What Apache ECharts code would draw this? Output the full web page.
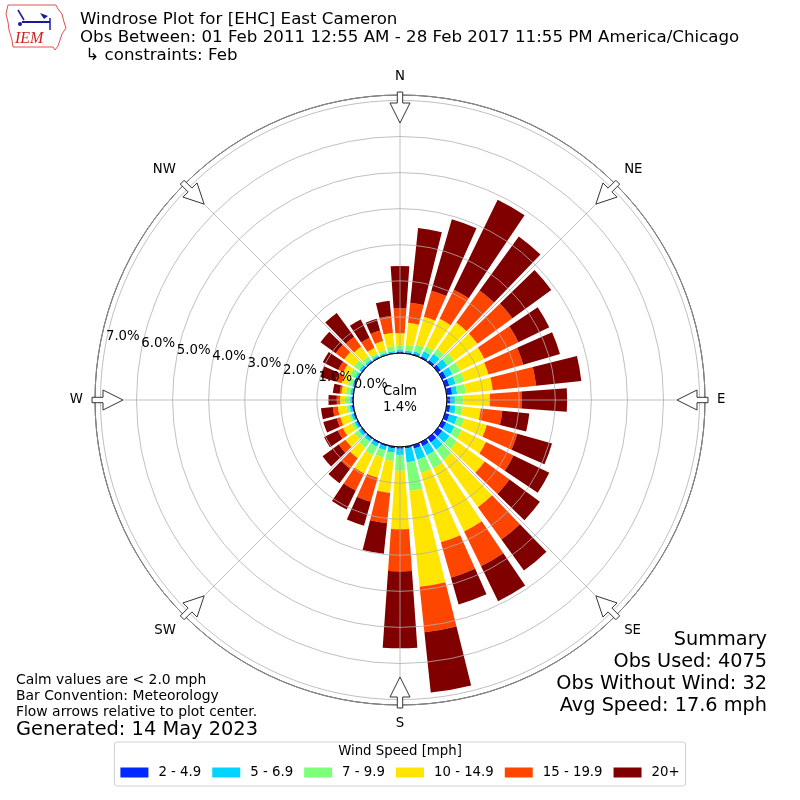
<!DOCTYPE html>
<html><head><meta charset="utf-8">
<script src="https://cdn.jsdelivr.net/npm/echarts@6/dist/echarts.min.js"></script>
<style>html,body{margin:0;padding:0;background:#fff}#c{width:800px;height:800px}</style>
</head><body><div id="c"></div>
<script>
// ---- data ----
const directions = ['0','10','20','30','40','50','60','70','80','90','100','110','120','130','140','150','160','170',
  '180','190','200','210','220','230','240','250','260','270','280','290','300','310','320','330','340','350'];
const speedBins = ['2 - 4.9','5 - 6.9','7 - 9.9','10 - 14.9','15 - 19.9','20+'];
const s2to5   = [0.03,0.03,0.04,0.05,0.07,0.10,0.12,0.12,0.15,0.10,0.10,0.12,0.12,0.15,0.15,0.12,0.10,0.05,0.05,0.05,0.04,0.04,0.04,0.04,0.04,0.04,0.04,0.03,0.03,0.03,0.03,0.03,0.03,0.03,0.02,0.02];
const s5to7   = [0.05,0.05,0.06,0.15,0.21,0.22,0.20,0.18,0.14,0.12,0.15,0.23,0.26,0.25,0.25,0.28,0.32,0.38,0.17,0.12,0.11,0.10,0.08,0.08,0.06,0.06,0.06,0.05,0.05,0.05,0.05,0.07,0.05,0.04,0.04,0.04];
const s7to10  = [0.12,0.16,0.20,0.15,0.17,0.23,0.23,0.25,0.24,0.23,0.20,0.20,0.22,0.25,0.35,0.40,0.38,0.80,0.44,0.23,0.21,0.26,0.21,0.14,0.09,0.07,0.10,0.14,0.12,0.12,0.17,0.18,0.12,0.07,0.08,0.14];
const s10to15 = [0.35,0.61,0.80,0.85,0.90,0.80,0.75,0.70,0.75,0.74,0.50,0.65,0.75,0.95,1.62,1.95,2.00,2.67,1.62,0.89,0.58,0.56,0.36,0.31,0.27,0.25,0.23,0.14,0.13,0.18,0.20,0.33,0.33,0.17,0.26,0.37];
const s15to20 = [0.69,0.56,0.75,0.90,1.10,1.20,1.05,1.00,1.21,0.88,0.60,0.88,0.85,0.85,1.11,1.07,1.02,1.27,1.17,0.84,0.69,0.53,0.36,0.23,0.16,0.10,0.14,0.09,0.05,0.18,0.15,0.29,0.33,0.31,0.30,0.47];
const s20plus = [1.17,2.08,2.06,2.77,1.85,1.33,0.95,1.06,1.26,1.26,0.75,1.00,1.10,1.04,1.06,1.08,0.77,1.68,2.13,0.85,0.69,0.58,0.50,0.55,0.42,0.39,0.33,0.23,0.19,0.44,0.48,0.52,0.82,0.56,0.34,0.42];
const compassLabels = ['N','NE','E','SE','S','SW','W','NW'];
const calmPct = '1.4%';
const summaryLines = ['Summary','Obs Used: 4075','Obs Without Wind: 32','Avg Speed: 17.6 mph'];
const noteLines = ['Calm values are < 2.0 mph','Bar Convention: Meteorology','Flow arrows relative to plot center.'];

// ---- styling ----
const colors = ['#0028ff','#00d4ff','#7dff7a','#ffe500','#ff4600','#800000'];
const FONT = 'DejaVu Sans';
const CX = 400, CY = 400, R0 = 47, R1 = 305, RMAX = 7.15;
const GRID = '#b0b0b0';

const seriesData = [s2to5, s5to7, s7to10, s10to15, s15to20, s20plus];
const series = seriesData.map((d, i) => ({
  type: 'bar', name: speedBins[i], coordinateSystem: 'polar', polarIndex: 0,
  stack: 'wind', data: d, barCategoryGap: '20%',
  itemStyle: { color: colors[i] }, z: 2, silent: true
}));

// arrows (decorations)
function arrowPts(deg) {
  const a = deg * Math.PI / 180;
  const u = [Math.sin(a), -Math.cos(a)], p = [Math.cos(a), Math.sin(a)];
  const pt = (r, w) => [CX + u[0] * r + p[0] * w, CY + u[1] * r + p[1] * w];
  return [pt(308, -2.7), pt(297, -2.7), pt(297, -10), pt(277, 0), pt(297, 10), pt(297, 2.7), pt(308, 2.7)];
}
const graphics = [];
for (let k = 0; k < 8; k++) {
  graphics.push({ type: 'polygon', z: 100, shape: { points: arrowPts(k * 45) },
    style: { fill: '#fff', stroke: '#333', lineWidth: 1 } });
}
function txt(x, y, text, size, align, extra) {
  return Object.assign({ type: 'text', x: x, y: y, z: 100,
    style: { text: text, fill: '#000', font: size + 'px "' + FONT + '"', textAlign: align || 'left', textVerticalAlign: 'middle', align: align || 'left', verticalAlign: 'middle' } }, extra || {});
}
graphics.push(txt(80, 20, 'Windrose Plot for [EHC] East Cameron', 16.67));
graphics.push(txt(80, 38, 'Obs Between: 01 Feb 2011 12:55 AM - 28 Feb 2017 11:55 PM America/Chicago', 16.67));
graphics.push(txt(80, 56, ' \u21b3 constraints: Feb', 16.67));
graphics.push(txt(CX, CY - 8, 'Calm', 13.3, 'center'));
graphics.push(txt(CX, CY + 8, calmPct, 13.3, 'center'));
summaryLines.forEach((t, i) => graphics.push(txt(767, 640 + i * 22, t, 19.3, 'right')));
noteLines.forEach((t, i) => graphics.push(txt(16, 680 + i * 16, t, 13.9)));
graphics.push(txt(16, 730, 'Generated: 14 May 2023', 19.4));
graphics.push(txt(400, 752, 'Wind Speed [mph]', 13.3, 'center'));
// IEM logo
graphics.push({ type: 'polygon', z: 100, shape: { points: [[8,5],[56,5],[58,9],[62,14],[64,22],[66,28],[62,34],[60,40],[58,46],[55,50],[53,47],[13,47],[12,40],[9,30],[8,22],[6,14],[8,5]] },
  style: { fill: 'none', stroke: '#e05050', lineWidth: 1 } });
graphics.push({ type: 'line', z: 100, shape: { x1: 22, y1: 22, x2: 50, y2: 22 }, style: { stroke: '#1a1aa0', lineWidth: 2 } });
graphics.push({ type: 'line', z: 100, shape: { x1: 18, y1: 10, x2: 24, y2: 20 }, style: { stroke: '#1a1aa0', lineWidth: 1.5 } });
graphics.push({ type: 'polygon', z: 100, shape: { points: [[40,13],[48,16],[44,19]] }, style: { fill: '#1a1aa0' } });
graphics.push({ type: 'line', z: 100, shape: { x1: 50, y1: 18, x2: 50, y2: 30 }, style: { stroke: '#1a1aa0', lineWidth: 1.5 } });
graphics.push({ type: 'circle', z: 100, shape: { cx: 20, cy: 24, r: 2 }, style: { fill: '#1a1aa0' } });
graphics.push({ type: 'text', z: 100, x: 15, y: 39, style: { text: 'IEM', fill: '#d02020', font: 'italic 16px "Liberation Serif"', textVerticalAlign: 'middle', verticalAlign: 'middle' } });

const chart = echarts.init(document.getElementById('c'), null, { renderer: 'canvas' });
chart.setOption({
  animation: false,
  backgroundColor: '#fff',
  polar: [
    { center: [CX, CY], radius: [R0, R1] },
    { center: [CX, CY], radius: [R0, R1] },
    { center: [CX, CY], radius: [R0, R1] },
    { center: [CX, CY], radius: [0, R0] }
  ],
  angleAxis: [
    { polarIndex: 0, type: 'category', data: directions, startAngle: 95, clockwise: true, z: 1,
      axisLine: { show: true, lineStyle: { color: '#000', width: 1 } }, axisTick: { show: false },
      axisLabel: { show: false }, splitLine: { show: false }, splitArea: { show: false } },
    { polarIndex: 1, type: 'value', min: 0, max: 360, interval: 45, startAngle: 90, clockwise: true, z: 10,
      axisLine: { show: false }, axisTick: { show: false },
      axisLabel: { show: true, margin: 12, color: '#000', fontFamily: FONT, fontSize: 13.3,
        formatter: v => compassLabels[Math.round(v / 45) % 8] },
      splitLine: { show: true, lineStyle: { color: GRID, width: 0.8 } } },
    { polarIndex: 2, type: 'value', min: 0, max: 360, startAngle: 169, show: false },
    { polarIndex: 3, type: 'value', min: 0, max: 360, z: 20,
      axisLine: { show: true, lineStyle: { color: '#000', width: 1 } }, axisTick: { show: false },
      axisLabel: { show: false }, splitLine: { show: false } }
  ],
  radiusAxis: [
    { polarIndex: 0, type: 'value', min: 0, max: RMAX, interval: 1, z: 10,
      axisLine: { show: false }, axisTick: { show: false }, axisLabel: { show: false },
      splitLine: { show: true, lineStyle: { color: GRID, width: 0.8 } } },
    { polarIndex: 1, type: 'value', min: 0, max: RMAX, show: false },
    { polarIndex: 2, type: 'value', min: 0, max: RMAX, interval: 1, z: 30,
      axisLine: { show: false }, axisTick: { show: false }, splitLine: { show: false },
      axisLabel: { show: true, margin: 0, rotate: 0, align: 'left', verticalAlign: 'bottom', color: '#000',
        fontFamily: FONT, fontSize: 13.3, showMaxLabel: false, hideOverlap: false,
        formatter: v => v.toFixed(1) + '%' } },
    { polarIndex: 3, type: 'value', min: 0, max: 1, show: false }
  ],
  legend: {
    data: speedBins, left: 'center', top: 742, orient: 'horizontal',
    itemWidth: 28, itemHeight: 10, itemGap: 11, icon: 'rect',
    padding: [24, 6, 7, 6], borderColor: '#d0d0d0', borderWidth: 1, borderRadius: 3,
    backgroundColor: '#fff',
    textStyle: { color: '#000', fontFamily: FONT, fontSize: 13.3, padding: [0, 0, 0, 5] }
  },
  series: series,
  graphic: { elements: graphics }
});
</script></body></html>
